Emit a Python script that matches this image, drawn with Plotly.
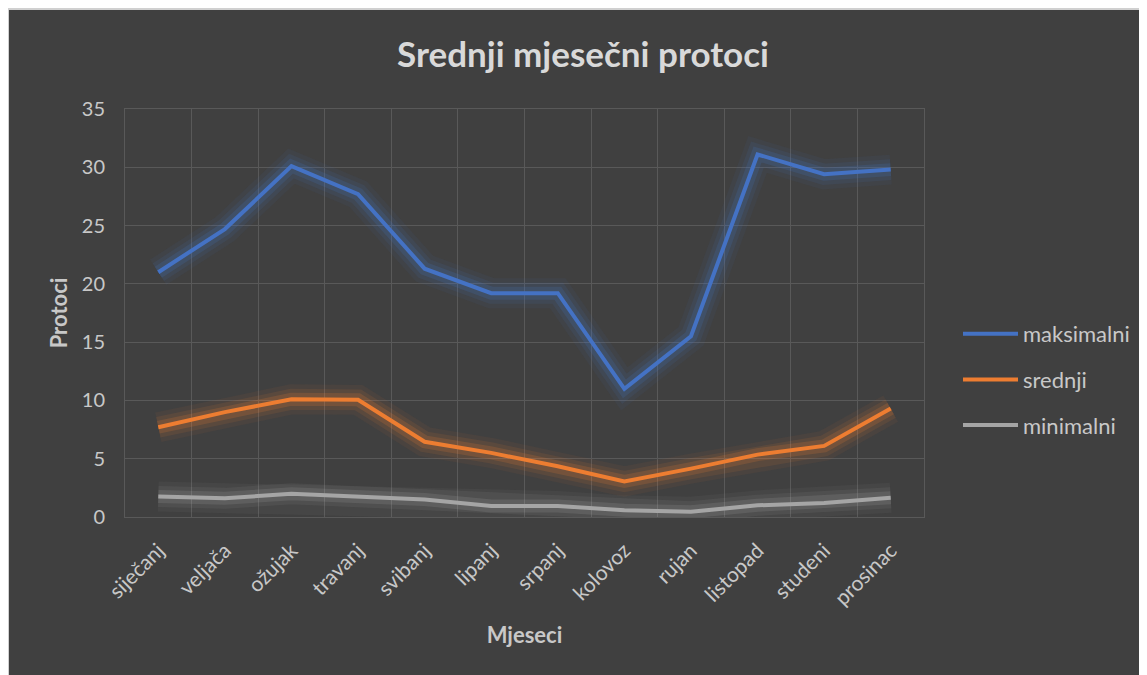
import plotly.graph_objects as go

months = ["siječanj", "veljača", "ožujak", "travanj", "svibanj", "lipanj",
          "srpanj", "kolovoz", "rujan", "listopad", "studeni", "prosinac"]
maksimalni = [21.0, 24.7, 30.1, 27.7, 21.3, 19.2, 19.2, 11.0, 15.5, 31.1, 29.4, 29.8]
srednji = [7.7, 9.0, 10.1, 10.05, 6.45, 5.5, 4.35, 3.05, 4.15, 5.35, 6.1, 9.3]
minimalni = [1.75, 1.6, 2.0, 1.75, 1.5, 0.95, 0.95, 0.57, 0.45, 1.0, 1.2, 1.65]
y_ticks = [0, 5, 10, 15, 20, 25, 30, 35]

series = [
    ("maksimalni", maksimalni, (68, 114, 196)),
    ("srednji", srednji, (237, 125, 49)),
    ("minimalni", minimalni, (165, 165, 165)),
]

W, H = 1139, 667
L, R, T, B = 117, 223, 101, 158
PW, PH = W - L - R, H - T - B


def px_x(p):
    return (p - L) / PW


def px_y(p):
    return 1 - (p - T) / PH


FONT = "Lato"
xs = list(range(len(months)))

fig = go.Figure()

# glow layers
for name, vals, (r, g, b) in series:
    for w, a in [(30, 0.06), (21, 0.10), (13, 0.18)]:
        fig.add_trace(go.Scatter(
            x=xs, y=vals, mode="lines",
            line=dict(color=f"rgba({r},{g},{b},{a})", width=w),
            showlegend=False, hoverinfo="skip", legendgroup=name,
        ))

for name, vals, (r, g, b) in series:
    fig.add_trace(go.Scatter(
        x=xs, y=vals, mode="lines", name=name, legendgroup=name,
        line=dict(color=f"rgb({r},{g},{b})", width=4),
    ))

grid = "#595959"
label_col = "#C8C8C8"

fig.update_layout(
    width=W, height=H,
    margin=dict(l=L, r=R, t=T, b=B, autoexpand=False),
    paper_bgcolor="#404040", plot_bgcolor="#404040",
    font=dict(family=FONT, color=label_col, size=20),
    title=dict(text="<b>Srednji mjesečni protoci</b>", xref="container", yref="container",
               x=575 / W, y=1 - 47 / H, xanchor="center", yanchor="middle",
               font=dict(family=FONT, size=35, color="#D9D9D9")),
    xaxis=dict(
        range=[-0.5, 11.5], tickmode="array", tickvals=xs, ticktext=months,
        tickangle=-45, showgrid=False, zeroline=False,
        showline=True, mirror=True, linecolor=grid, linewidth=1,
        ticks="", ticklabelstandoff=12,
        tickfont=dict(family=FONT, size=21, color=label_col),
        minor=dict(tick0=0.5, dtick=1, showgrid=True, gridcolor=grid, gridwidth=1, ticks=""),
        title=dict(text="<b>Mjeseci</b>", standoff=19,
                   font=dict(family=FONT, size=22, color=label_col)),
        automargin=False,
    ),
    yaxis=dict(
        range=[0, 35], tickmode="array", tickvals=y_ticks,
        showgrid=True, gridcolor=grid, gridwidth=1, zeroline=False,
        showline=True, mirror=True, linecolor=grid, linewidth=1,
        ticks="", ticklabelstandoff=15,
        tickfont=dict(family=FONT, size=20, color=label_col),
        title=dict(text="<b>Protoci</b>", standoff=8,
                   font=dict(family=FONT, size=22, color=label_col)),
        automargin=False,
    ),
    legend=dict(
        x=px_x(950), y=px_y(305), xanchor="left", yanchor="top",
        bgcolor="rgba(0,0,0,0)", font=dict(family=FONT, size=22, color=label_col),
        traceorder="grouped", tracegroupgap=14, itemwidth=55,
    ),
    shapes=[
        dict(type="line", xref="paper", yref="paper", x0=px_x(0), x1=px_x(W),
             y0=px_y(1), y1=px_y(1), line=dict(color="#D0D0D0", width=2), layer="above"),
        dict(type="line", xref="paper", yref="paper", x0=px_x(0), x1=px_x(0),
             y0=px_y(0), y1=px_y(H), line=dict(color="#D0D0D0", width=2), layer="above"),
    ],
)

fig.write_html("out.html")
